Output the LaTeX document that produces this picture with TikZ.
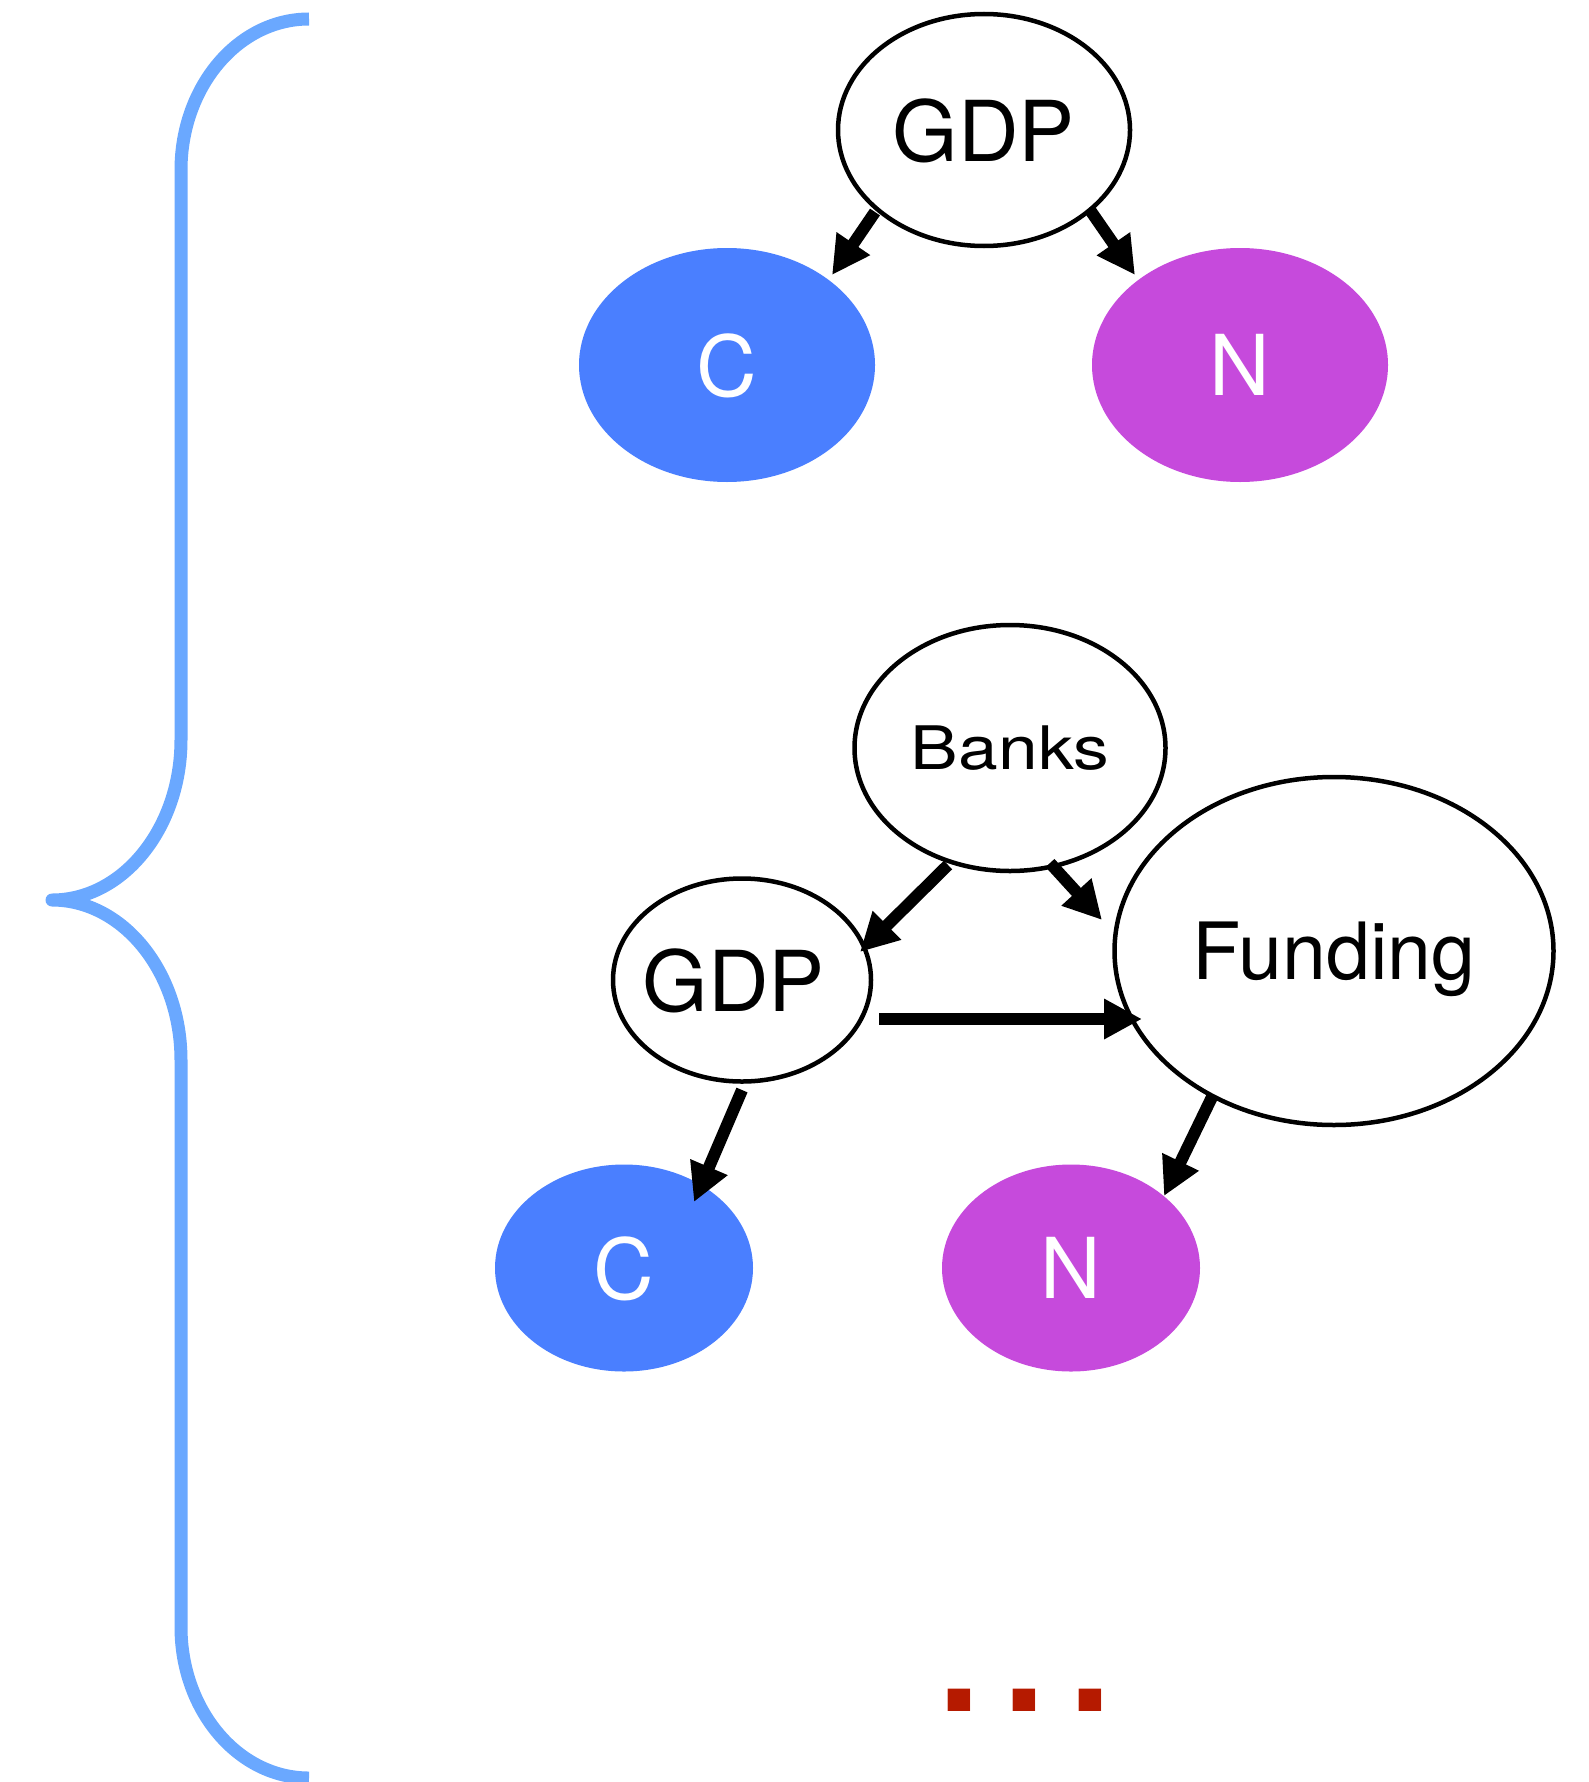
\documentclass[tikz,border=0pt]{standalone}
\usepackage{fontspec}
\setmainfont{TeX Gyre Heros}
\usetikzlibrary{arrows.meta,shapes.geometric}
\definecolor{braceblue}{HTML}{6AA8FF}
\definecolor{cblue}{HTML}{4A7FFF}
\definecolor{nmag}{HTML}{C64ADC}
\definecolor{dotred}{HTML}{B51A00}
\begin{document}
\begin{tikzpicture}[x=1pt,y=-1pt,
  var/.style={ellipse, inner sep=0pt, text depth=0pt},
  open/.style={var, draw=black, line width=4.5pt, fill=white},
  cnode/.style={var, fill=cblue, text=white},
  nnode/.style={var, fill=nmag, text=white},
  big/.style={font=\fontsize{84}{90}\selectfont},
  arr/.style={line width=12pt, line cap=butt, -{Triangle[length=38pt,width=38pt]}},
  bracestyle/.style={draw=braceblue, line width=13pt, line join=round}
]
\useasboundingbox (0,0) rectangle (1588,1782);

% brace
\draw[bracestyle] (309,19) .. controls (238,19) and (181,87) .. (181,170)
  -- (181,740) .. controls (181,828) and (123,900) .. (52,900)
  .. controls (123,900) and (181,972) .. (181,1060)
  -- (181,1627) .. controls (181,1710) and (238,1778) .. (309,1778);

% top graph
\node[open, big, minimum width=292pt, minimum height=232pt] (gdp1) at (984,130) {GDP};
\node[cnode, big, minimum width=296pt, minimum height=234pt] (c1) at (727,365) {C};
\node[nnode, big, minimum width=296pt, minimum height=234pt] (n1) at (1240,365) {N};

\draw[arr] ([shift={(-109,82)}]gdp1.center) -- ([shift={(105,-90)}]c1.center);
\draw[arr] ([shift={(106,80)}]gdp1.center) -- ([shift={(-105,-90)}]n1.center);

% second graph
\node[open, font=\fontsize{79}{90}\selectfont, minimum width=439pt, minimum height=348pt] (funding) at (1334,951) {Funding};
\node[open, font=\fontsize{60}{70}\selectfont, minimum width=311pt, minimum height=246pt] (banks) at (1010,748) {\scalebox{1.19}[1]{Banks}};
\node[open, big, minimum width=258pt, minimum height=203pt] (gdp2) at (742,980) {\makebox[0pt]{\hspace*{-16pt}GDP}};
\node[cnode, big, minimum width=258pt, minimum height=207pt] (c2) at (624,1268) {C};
\node[nnode, big, minimum width=258pt, minimum height=207pt] (n2) at (1071,1268) {N};

\draw[arr] ([shift={(-62,117)}]banks.center) -- ([shift={(118,-28)}]gdp2.center);
\draw[arr] ([shift={(40,115)}]banks.center) -- ([shift={(-232,-31)}]funding.center);
\draw[arr] ([shift={(137,39)}]gdp2.center) -- ([shift={(-192,68)}]funding.center);
\draw[arr] ([shift={(0,110)}]gdp2.center) -- ([shift={(70,-66)}]c2.center);
\draw[arr] ([shift={(-122,146)}]funding.center) -- ([shift={(93,-72)}]n2.center);

% ellipsis
\node[text=dotred, inner sep=0pt, text depth=0pt, font=\fontsize{215}{220}\selectfont] (dots) at (1025,1700) {.\hspace{6pt}.\hspace{6pt}.};
\end{tikzpicture}
\end{document}
